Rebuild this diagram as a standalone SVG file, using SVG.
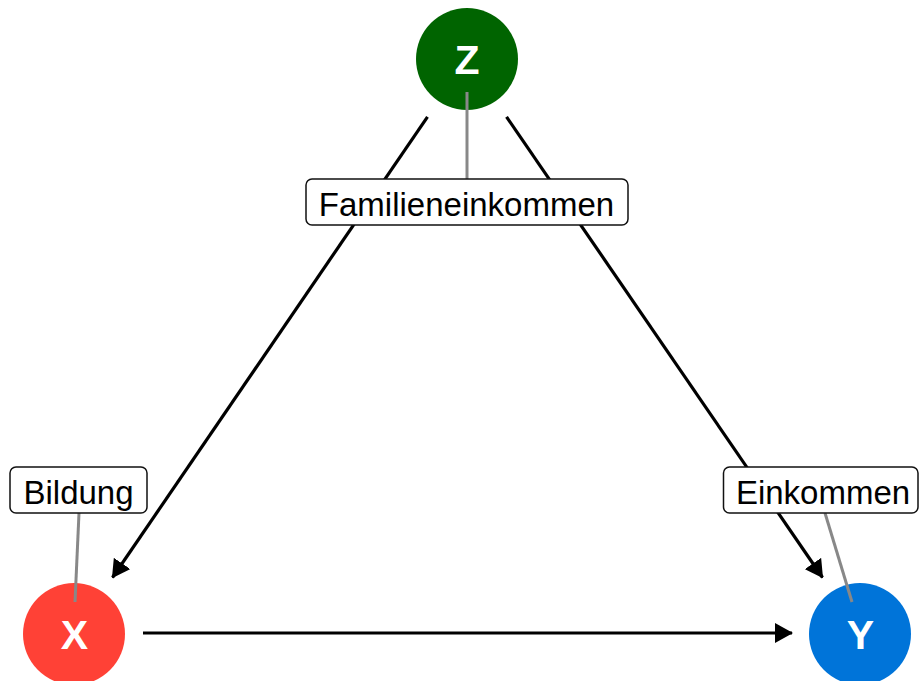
<svg xmlns="http://www.w3.org/2000/svg" width="919" height="681" viewBox="0 0 919 681">
  <style>
    .edge { stroke: #000; stroke-width: 3.2; fill: none; }
    .lead { stroke: #888; stroke-width: 3; fill: none; }
    .box { fill: #fff; stroke: #111; stroke-width: 1.5; }
    .lbl { font-family: "Liberation Sans", Arial, sans-serif; font-size: 33px; fill: #000; text-anchor: middle; }
    .nodetxt { font-family: "Liberation Sans", Arial, sans-serif; font-weight: bold; font-size: 41px; fill: #fff; text-anchor: middle; }
  </style>
  <defs>
    <marker id="arrow" viewBox="0 0 18 20" refX="17" refY="10" markerWidth="18" markerHeight="20" markerUnits="userSpaceOnUse" orient="auto">
      <path d="M0,0 L18,10 L0,20 Z" fill="#000"/>
    </marker>
  </defs>
  <rect width="919" height="681" fill="#fff"/>

  <!-- node circles -->
  <g id="node-Z">
    <circle cx="467" cy="59" r="51" fill="#006400"/>
    <text class="nodetxt" x="467" y="74">Z</text>
  </g>
  <g id="node-X">
    <circle cx="74" cy="634" r="51" fill="#FF4136"/>
    <text class="nodetxt" x="74.5" y="649">X</text>
  </g>
  <g id="node-Y">
    <circle cx="860" cy="634" r="51" fill="#0074D9"/>
    <text class="nodetxt" x="860.5" y="649">Y</text>
  </g>

  <!-- causal arrows -->
  <g id="connectors">
    <line class="edge" x1="427.5" y1="116.8" x2="112.5" y2="577.5" marker-end="url(#arrow)"/>
    <line class="edge" x1="506.5" y1="116.8" x2="822.5" y2="577.5" marker-end="url(#arrow)"/>
    <line class="edge" x1="143" y1="633" x2="792" y2="633" marker-end="url(#arrow)"/>
  </g>

  <!-- repelled labels with leader lines -->
  <g id="label-Z">
    <line class="lead" x1="467" y1="92" x2="467" y2="179"/>
    <rect class="box" x="306" y="179" width="322" height="46" rx="6"/>
    <text class="lbl" x="466.5" y="215.5">Familieneinkommen</text>
  </g>
  <g id="label-X">
    <line class="lead" x1="79" y1="513" x2="75" y2="602"/>
    <rect class="box" x="10" y="467" width="137" height="46" rx="6"/>
    <text class="lbl" x="78.5" y="503.5">Bildung</text>
  </g>
  <g id="label-Y">
    <line class="lead" x1="825" y1="513" x2="852" y2="602"/>
    <rect class="box" x="723.5" y="467" width="194.5" height="46" rx="6"/>
    <text class="lbl" x="823" y="503.5">Einkommen</text>
  </g>
</svg>
